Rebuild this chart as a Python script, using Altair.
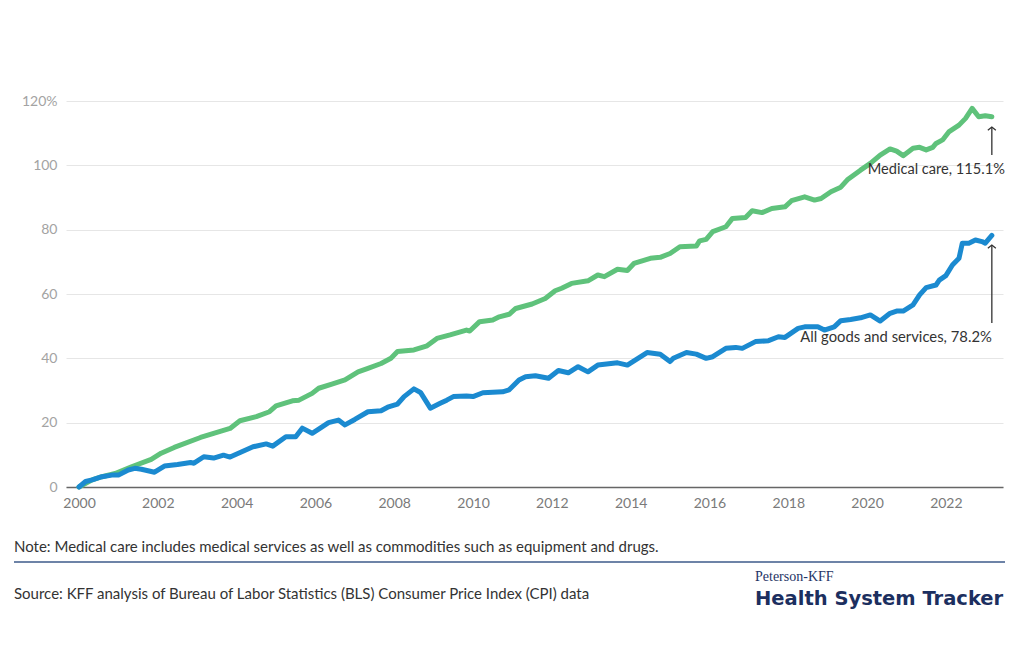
import altair as alt
import pandas as pd

# ---- Data (cumulative % change since Jan 2000) ----
med_dates = ["2000-01", "2000-05", "2000-08", "2000-12", "2001-05", "2001-11", "2002-02", "2002-06",
             "2003-02", "2003-06", "2003-11", "2004-02", "2004-07", "2004-11", "2005-01", "2005-06",
             "2005-08", "2005-12", "2006-02", "2006-06", "2006-10", "2007-02", "2007-05", "2007-09",
             "2007-12", "2008-02", "2008-07", "2008-11", "2009-02", "2009-06", "2009-11", "2009-12",
             "2010-03", "2010-07", "2010-09", "2010-12", "2011-02", "2011-07", "2011-11", "2012-02",
             "2012-04", "2012-07", "2012-12", "2013-03", "2013-05", "2013-09", "2013-12", "2014-02",
             "2014-07", "2014-10", "2015-01", "2015-04", "2015-09", "2015-10", "2015-12", "2016-02",
             "2016-06", "2016-08", "2016-12", "2017-02", "2017-05", "2017-08", "2017-12", "2018-02",
             "2018-06", "2018-09", "2018-11", "2019-02", "2019-05", "2019-07", "2019-11", "2020-02",
             "2020-05", "2020-08", "2020-10", "2020-12", "2021-03", "2021-05", "2021-07", "2021-09",
             "2021-10", "2021-12", "2022-02", "2022-05", "2022-07", "2022-09", "2022-11", "2023-01",
             "2023-03"]
med_values = [0.0, 2.2, 3.2, 4.2, 6.3, 8.6, 10.5, 12.3,
              15.4, 16.7, 18.2, 20.6, 21.9, 23.4, 25.2, 26.8,
              27.0, 29.1, 30.7, 32.0, 33.3, 35.8, 36.9, 38.4,
              40.0, 42.1, 42.6, 43.9, 46.2, 47.3, 48.8, 48.5,
              51.4, 51.9, 52.9, 53.7, 55.5, 56.9, 58.6, 61.0,
              61.8, 63.3, 64.1, 65.9, 65.4, 67.7, 67.3, 69.5,
              71.1, 71.4, 72.6, 74.7, 74.9, 76.5, 77.0, 79.4,
              80.9, 83.5, 83.8, 85.9, 85.3, 86.6, 87.1, 89.0,
              90.2, 89.2, 89.7, 91.8, 93.2, 95.5, 98.5, 100.6,
              103.2, 105.1, 104.4, 103.0, 105.3, 105.6, 104.8, 105.6,
              106.8, 107.9, 110.5, 112.5, 114.6, 117.7, 115.1, 115.4,
              115.1]

all_dates = ["2000-01", "2000-03", "2000-05", "2000-08", "2000-11", "2001-01", "2001-04", "2001-06",
             "2001-08", "2001-12", "2002-03", "2002-07", "2002-11", "2002-12", "2003-03", "2003-06",
             "2003-09", "2003-11", "2004-06", "2004-10", "2004-12", "2005-04", "2005-07", "2005-09",
             "2005-12", "2006-02", "2006-05", "2006-08", "2006-10", "2007-01", "2007-05", "2007-09",
             "2007-11", "2008-02", "2008-04", "2008-07", "2008-09", "2008-12", "2009-03", "2009-05",
             "2009-07", "2009-11", "2010-01", "2010-04", "2010-10", "2010-12", "2011-03", "2011-05",
             "2011-08", "2011-12", "2012-03", "2012-06", "2012-09", "2012-12", "2013-03", "2013-09",
             "2013-12", "2014-06", "2014-10", "2015-01", "2015-02", "2015-06", "2015-09", "2015-12",
             "2016-02", "2016-06", "2016-09", "2016-11", "2017-03", "2017-07", "2017-10", "2017-12",
             "2018-04", "2018-06", "2018-10", "2018-12", "2019-03", "2019-05", "2019-08", "2019-11",
             "2020-02", "2020-05", "2020-08", "2020-10", "2020-12", "2021-03", "2021-05", "2021-07",
             "2021-10", "2021-11", "2022-01", "2022-03", "2022-05", "2022-06", "2022-08", "2022-10",
             "2022-12", "2023-01", "2023-03"]
all_values = [0.0, 1.7, 2.2, 3.2, 3.7, 3.7, 5.3, 5.8,
              5.5, 4.6, 6.5, 7.0, 7.6, 7.4, 9.4, 9.0,
              9.9, 9.3, 12.5, 13.4, 12.7, 15.6, 15.6, 18.3,
              16.7, 18.0, 20.0, 20.8, 19.3, 21.0, 23.4, 23.7,
              24.8, 25.8, 28.1, 30.5, 29.4, 24.5, 26.0, 27.0,
              28.1, 28.3, 28.1, 29.3, 29.6, 30.2, 33.3, 34.3,
              34.6, 33.8, 36.2, 35.5, 37.4, 35.8, 37.9, 38.6,
              37.9, 41.8, 41.3, 39.0, 40.0, 41.8, 41.3, 40.0,
              40.5, 43.1, 43.4, 43.1, 45.2, 45.5, 46.7, 46.5,
              49.3, 49.8, 49.8, 48.8, 49.8, 51.7, 52.1, 52.6,
              53.5, 51.6, 54.0, 54.7, 54.7, 56.6, 59.7, 62.0,
              62.8, 64.3, 65.7, 69.0, 71.1, 75.8, 75.8, 76.8,
              76.3, 75.8, 78.2]

x_tick_years = [2000, 2002, 2004, 2006, 2008, 2010, 2012, 2014, 2016, 2018, 2020, 2022]
y_ticks = [0, 20, 40, 60, 80, 100, 120]

ann_labels = ["Medical care, 115.1%", "All goods and services, 78.2%"]
ann_text_y = [98.5, 46.3]
ann_arrow_from = [103.2, 51.0]
ann_arrow_to = [111.9, 75.2]

note_text = "Note: Medical care includes medical services as well as commodities such as equipment and drugs."
source_text = "Source: KFF analysis of Bureau of Labor Statistics (BLS) Consumer Price Index (CPI) data"

GREEN = "#5fc27b"
BLUE = "#1b8ad0"
FONT = "Lato"


def to_dec(s):
    y, m = s.split("-")
    return int(y) + (int(m) - 1) / 12.0


med_df = pd.DataFrame({"t": [to_dec(d) for d in med_dates], "v": med_values})
all_df = pd.DataFrame({"t": [to_dec(d) for d in all_dates], "v": all_values})
last_t = max(to_dec(med_dates[-1]), to_dec(all_dates[-1]))
ann_df = pd.DataFrame({"t": [last_t, last_t], "label": ann_labels, "ty": ann_text_y,
                       "y1": ann_arrow_from, "y2": ann_arrow_to})

X = alt.X("t:Q",
          scale=alt.Scale(domain=[1999.67, 2023.45], nice=False, zero=False),
          axis=alt.Axis(values=x_tick_years, format="d", title=None, grid=False, ticks=False,
                        labelPadding=9, labelFontSize=14, labelColor="#7a7a7a", labelFont=FONT,
                        domainColor="#666666", domainWidth=1.5))
Y_SCALE = alt.Scale(domain=[0, 120], nice=False)
Y_AXIS = alt.Axis(values=y_ticks, labelExpr="datum.value == 120 ? '120%' : datum.label",
                  title=None, domain=False, ticks=False, gridColor="#e6e6e6", gridWidth=1,
                  labelPadding=9, labelFontSize=14, labelColor="#a3a3a3", labelFont=FONT)

med_line = alt.Chart(med_df).mark_line(strokeWidth=5, strokeCap="round", strokeJoin="round",
                                      color=GREEN).encode(
    x=X, y=alt.Y("v:Q", scale=Y_SCALE, axis=Y_AXIS))
all_line = alt.Chart(all_df).mark_line(strokeWidth=5, strokeCap="round", strokeJoin="round",
                                      color=BLUE).encode(
    x=X, y=alt.Y("v:Q", scale=Y_SCALE, axis=Y_AXIS))

arrows = alt.Chart(ann_df).mark_rule(color="#333333", strokeWidth=1.3).encode(
    x=X, y=alt.Y("y1:Q", scale=Y_SCALE, axis=Y_AXIS), y2="y2:Q")
heads = alt.Chart(ann_df).mark_point(shape="M-1,0.8L0,0L1,0.8", filled=False, size=64,
                                     strokeWidth=1.3, color="#333333", opacity=1).encode(
    x=X, y=alt.Y("y2:Q", scale=Y_SCALE, axis=Y_AXIS))

med_label = alt.Chart(ann_df.iloc[[0]]).mark_text(align="right", baseline="middle", dx=13,
                                                  fontSize=14.6, font=FONT, color="#333333").encode(
    x=X, y=alt.Y("ty:Q", scale=Y_SCALE, axis=Y_AXIS), text="label:N")
all_label = alt.Chart(ann_df.iloc[[1]]).mark_text(align="right", baseline="middle", dx=0,
                                                  fontSize=14.8, font=FONT, color="#333333").encode(
    x=X, y=alt.Y("ty:Q", scale=Y_SCALE, axis=Y_AXIS), text="label:N")

note = alt.Chart(pd.DataFrame({"s": [note_text]})).mark_text(
    align="left", baseline="middle", fontSize=15, font=FONT, color="#333333").encode(
    x=alt.value(-52), y=alt.value(446), text="s:N")
divider = alt.Chart(pd.DataFrame({"s": [1]})).mark_rule(color="#3d5a8a", strokeWidth=1.5).encode(
    x=alt.value(-52), x2=alt.value(939), y=alt.value(461))
source = alt.Chart(pd.DataFrame({"s": [source_text]})).mark_text(
    align="left", baseline="middle", fontSize=15, font=FONT, color="#333333").encode(
    x=alt.value(-52), y=alt.value(493), text="s:N")
logo1 = alt.Chart(pd.DataFrame({"s": ["Peterson-KFF"]})).mark_text(
    align="left", baseline="middle", fontSize=14, font="Liberation Serif", color="#1f3566").encode(
    x=alt.value(689), y=alt.value(476), text="s:N")
logo2 = alt.Chart(pd.DataFrame({"s": ["Health System Tracker"]})).mark_text(
    align="left", baseline="middle", fontSize=19.5, font="DejaVu Sans", fontWeight="bold",
    color="#1c2f5f").encode(
    x=alt.value(689), y=alt.value(498), text="s:N")

chart = alt.layer(med_line, all_line, arrows, heads, med_label, all_label,
                  note, divider, source, logo1, logo2).properties(
    width=937, height=386,
    autosize=alt.AutoSizeParams(type="none"),
    padding={"left": 58, "top": 93, "right": 13, "bottom": 146},
    background="white",
).configure_view(stroke=None)

chart.save("out.html", embed_options={"renderer": "svg", "actions": False})
